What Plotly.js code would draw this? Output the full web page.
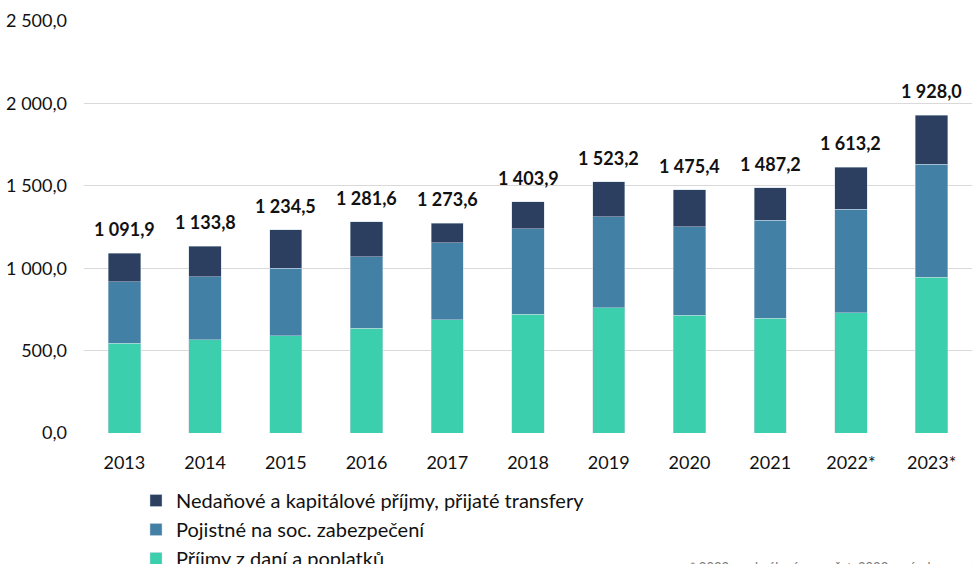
<!DOCTYPE html>
<html>
<head>
<meta charset="utf-8">
<script src="https://cdn.plot.ly/plotly-3.0.1.min.js"></script>
<style>html,body{margin:0;padding:0;background:#fff;}#chart{width:972px;height:564px;}</style>
</head>
<body>
<div id="chart"></div>
<script>
var years = ['2013','2014','2015','2016','2017','2018','2019','2020','2021','2022*','2023*'];
var taxes = [544, 566, 590, 635, 686, 722, 760, 716, 696, 730, 945];
var social = [374, 382, 409, 435, 469, 516, 553, 536, 596, 627, 687];
var nonTax = [173.9, 185.8, 235.5, 211.6, 118.6, 165.9, 210.2, 223.4, 195.2, 256.2, 296.0];
var totals = [1091.9, 1133.8, 1234.5, 1281.6, 1273.6, 1403.9, 1523.2, 1475.4, 1487.2, 1613.2, 1928.0];
var names = ['Příjmy z daní a poplatků', 'Pojistné na soc. zabezpečení', 'Nedaňové a kapitálové příjmy, přijaté transfery'];
var colors = ['#3ccfad', '#4380a5', '#2c3f60'];

function fmt(v){
  var s = v.toFixed(1);
  var parts = s.split('.');
  var ip = parts[0].replace(/\B(?=(\d{3})+(?!\d))/g, ' ');
  return ip + ',' + parts[1];
}

var font = 'Lato, "Open Sans", sans-serif';
var series = [taxes, social, nonTax];
var data = series.map(function(s, i){
  return {type:'bar', x:years, y:s, name:names[i], width:0.4,
    marker:{color:colors[i], line:{color:'rgba(200,215,225,0.8)', width:0.6}},
    hoverinfo:'y'};
});

var annotations = years.map(function(y, i){
  return {x:i, y:totals[i], xref:'x', yref:'y', text:'<b>'+fmt(totals[i])+'</b>',
    showarrow:false, yanchor:'bottom', yshift:11, font:{family:font, size:18, color:'#111'}};
});
annotations.push({xref:'paper', yref:'paper', x:(688-84)/888, y:(433-577)/412, xanchor:'left', yanchor:'bottom',
  text:'* 2022 – schválený rozpočet, 2023 – návrh rozpočtu', showarrow:false,
  font:{family:font, size:13, color:'#777'}});

var tickVals = [0, 500, 1000, 1500, 2000, 2500];
var layout = {
  width:972, height:564,
  margin:{l:84, r:0, t:21, b:131, autoexpand:false},
  paper_bgcolor:'#fff', plot_bgcolor:'#fff',
  barmode:'stack',
  showlegend:true,
  legend:{orientation:'v', x:(136-84)/888, xanchor:'left',
    y:(433-481)/412, yanchor:'top',
    traceorder:'reversed', font:{family:font, size:20, color:'#111'},
    itemwidth:30, tracegroupgap:0, bgcolor:'rgba(0,0,0,0)'},
  xaxis:{type:'category', range:[-0.5, 10.5], showgrid:false, zeroline:false, showline:false,
    ticks:'', ticklabelstandoff:17, tickangle:0, tickfont:{family:font, size:18, color:'#111'}, automargin:false},
  yaxis:{range:[0, 2500], tickvals:tickVals, ticktext:tickVals.map(fmt), showgrid:true,
    gridcolor:'#d9d9d9', gridwidth:1, zeroline:false, showline:false, ticks:'',
    ticklabelstandoff:16, tickfont:{family:font, size:18, color:'#111'}, automargin:false},
  annotations:annotations
};
Plotly.newPlot('chart', data, layout, {displayModeBar:false, staticPlot:true});
</script>
</body>
</html>
